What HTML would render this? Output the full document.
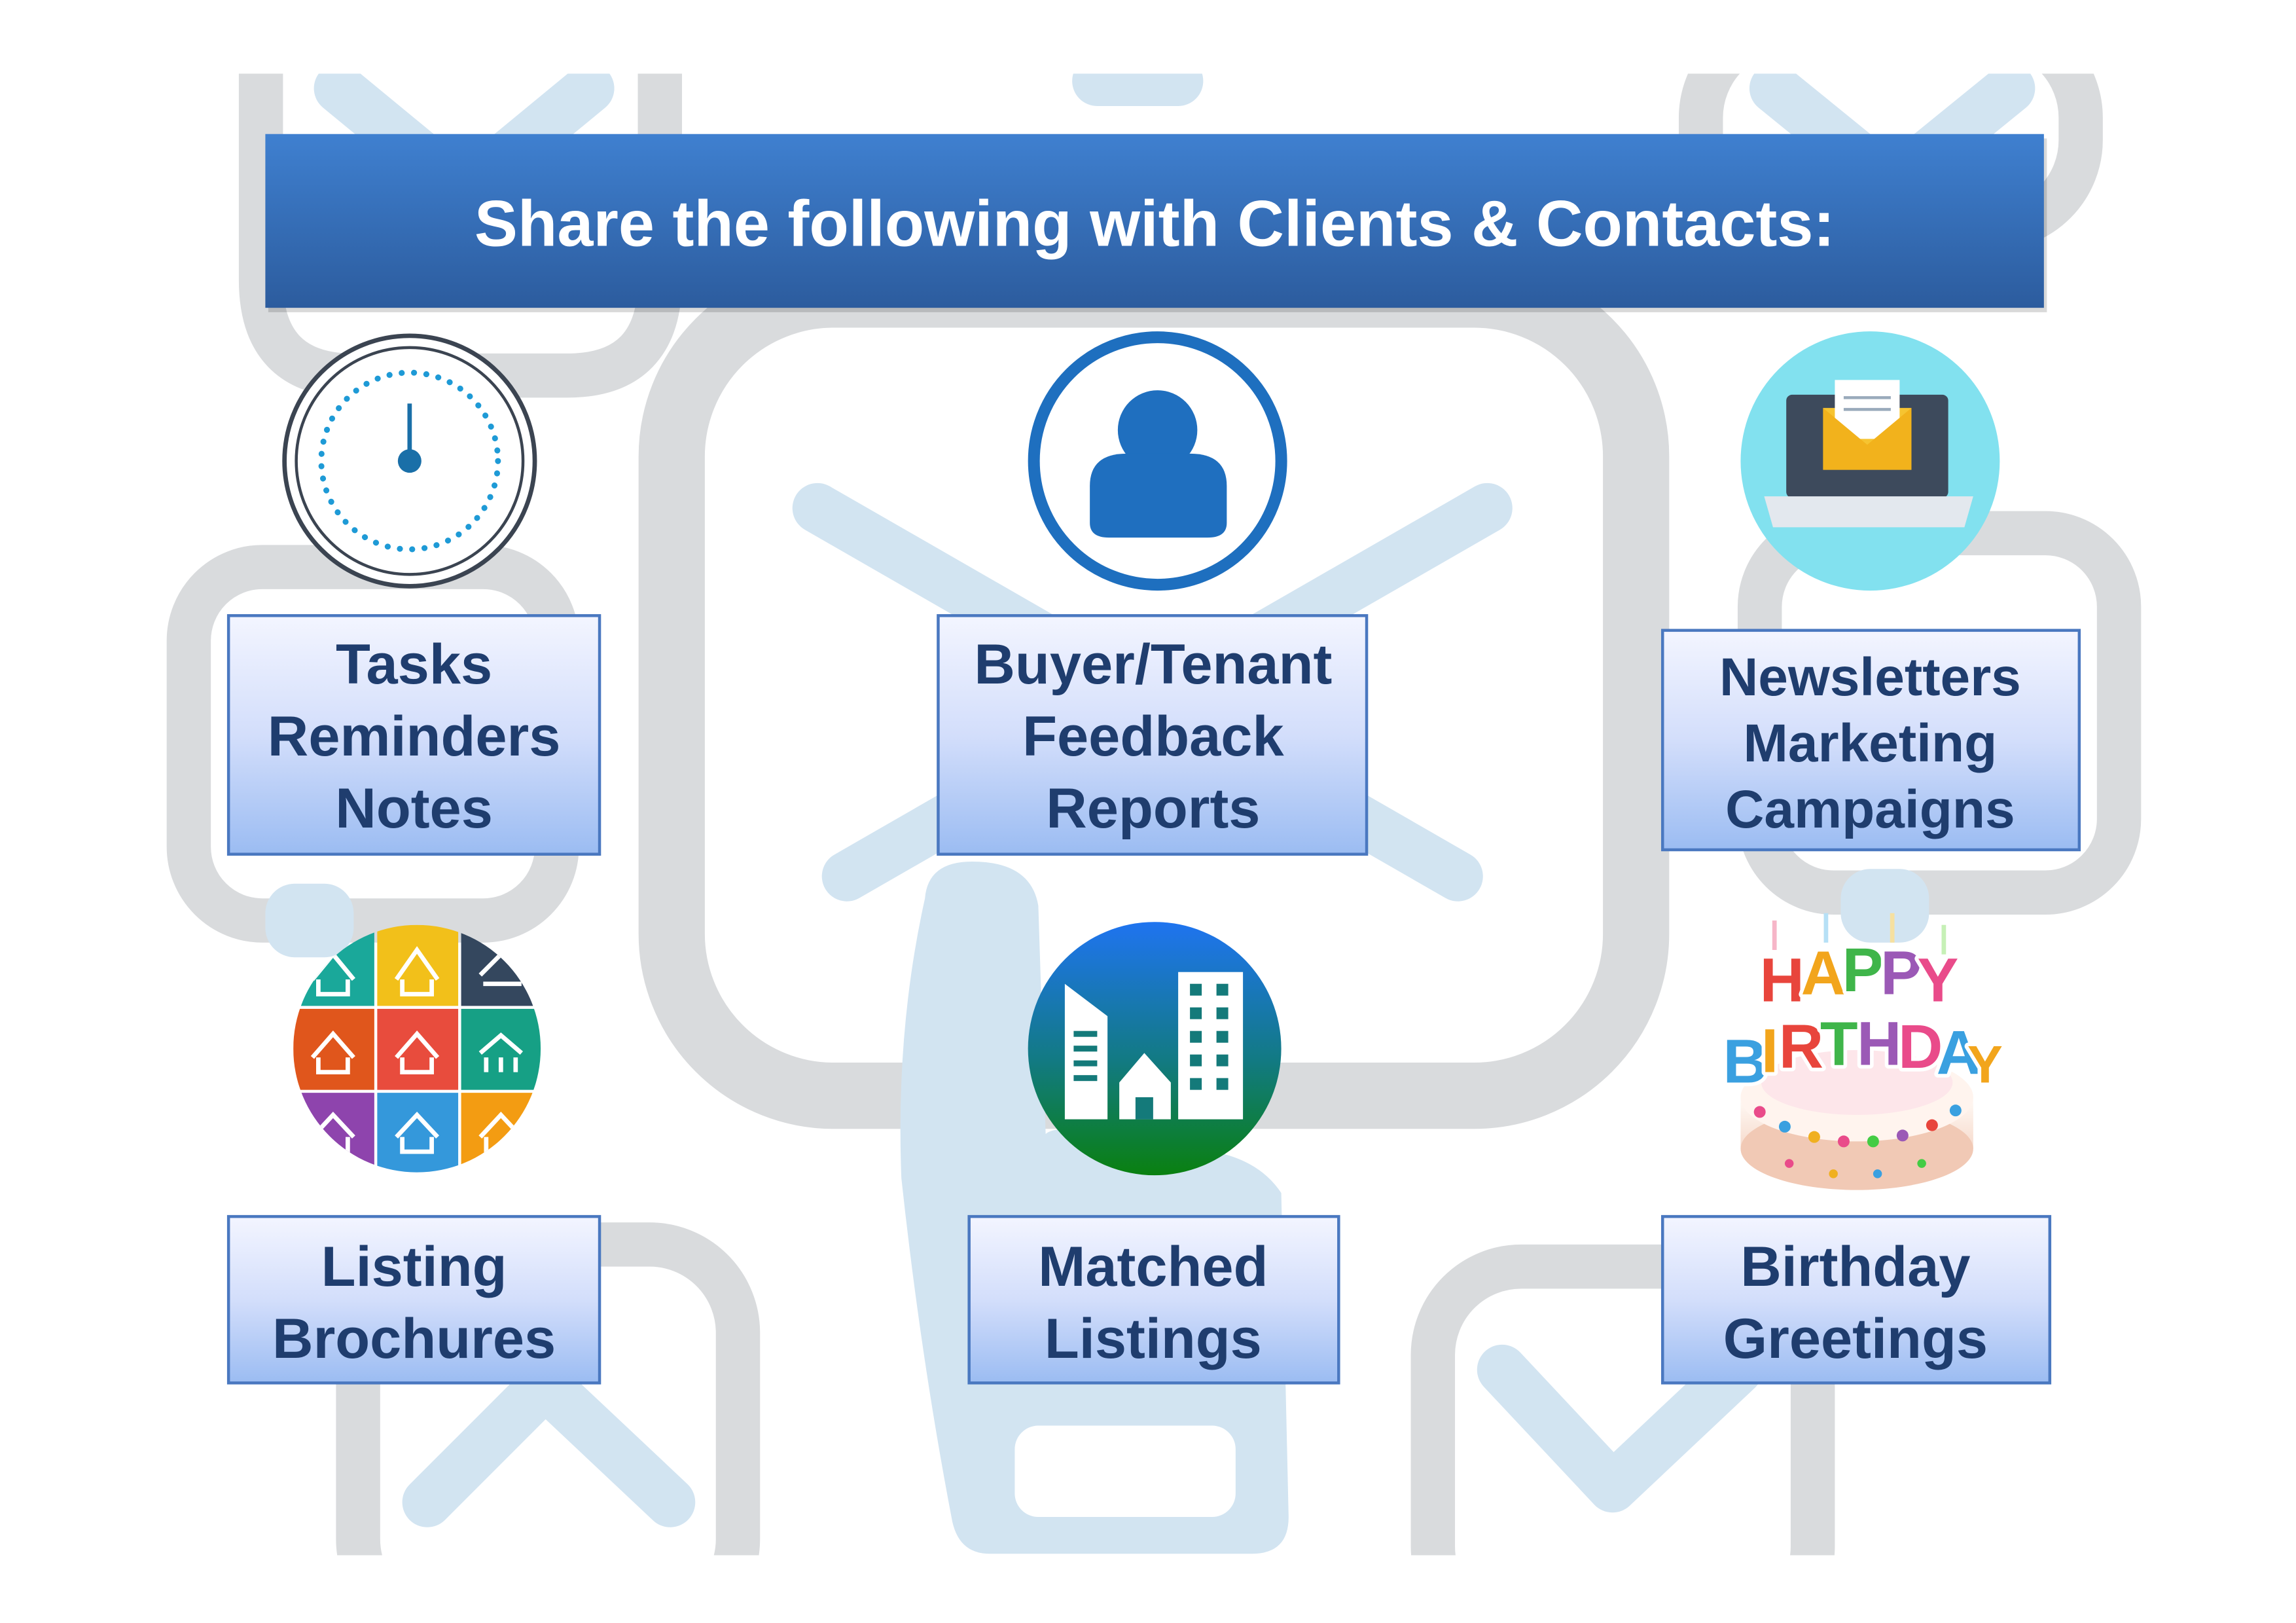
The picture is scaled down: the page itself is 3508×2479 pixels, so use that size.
<!DOCTYPE html>
<html><head><meta charset="utf-8"><style>
html,body{margin:0;padding:0;background:#fff;}
svg{display:block;}
text{font-family:"Liberation Sans",Arial,sans-serif;font-weight:bold;}
</style></head><body>
<svg width="3508" height="2479" viewBox="0 0 1559 1102" xmlns="http://www.w3.org/2000/svg">
<defs>
<linearGradient id="hdr" x1="0" y1="0" x2="0" y2="1"><stop offset="0" stop-color="#3f80d0"/><stop offset="1" stop-color="#2c5c9e"/></linearGradient>
<linearGradient id="box" x1="0" y1="0" x2="0" y2="1"><stop offset="0" stop-color="#f3f5ff"/><stop offset="0.5" stop-color="#d3defb"/><stop offset="1" stop-color="#9bbcf2"/></linearGradient>
<linearGradient id="bld" x1="0" y1="0" x2="0" y2="1"><stop offset="0" stop-color="#1f74f0"/><stop offset="0.55" stop-color="#127a82"/><stop offset="1" stop-color="#0a8010"/></linearGradient>
<linearGradient id="cake" x1="0" y1="0" x2="0" y2="1"><stop offset="0" stop-color="#fffaf6"/><stop offset="1" stop-color="#f0c4ae"/></linearGradient>
<clipPath id="hc"><circle cx="283" cy="712" r="84"/></clipPath>
<clipPath id="pg"><rect x="0" y="50" width="1559" height="1006"/></clipPath>
</defs>

<g clip-path="url(#pg)" fill="none" stroke-linecap="round" stroke-linejoin="round">
  <g stroke="#d9dbdd" stroke-width="30">
    <path d="M177,40 V190 Q177,255 240,255 H385 Q448,255 448,190 V40"/>
    <rect x="1155" y="20" width="258" height="135" rx="60"/>
    <rect x="128" y="385" width="250" height="240" rx="50"/>
    <rect x="1195" y="362" width="244" height="244" rx="50"/>
    <rect x="243" y="845" width="258" height="260" rx="60"/>
    <rect x="973" y="860" width="258" height="250" rx="60"/>
  </g>
  <rect x="456" y="200" width="655" height="544" rx="110" stroke="#d9dbdd" stroke-width="45"/>
  <g stroke="#d2e4f1" stroke-width="34">
    <polyline points="230,60 315,130 400,60"/>
    <polyline points="1205,60 1285,125 1365,60"/>
    <polyline points="290,1020 370,940 455,1020"/>
    <polyline points="1020,930 1095,1010 1180,930"/>
    <line x1="555" y1="345" x2="990" y2="595"/>
    <line x1="1010" y1="345" x2="575" y2="595"/>
    <line x1="745" y1="55" x2="800" y2="55"/>
  </g>
  <path d="M628,610 Q630,585 660,585 Q700,585 705,615 L710,770 Q720,760 800,780 Q850,780 870,810 L875,1030 Q875,1055 850,1055 L672,1055 Q650,1055 646,1030 Q625,920 612,800 Q608,700 628,610 Z" fill="#d2e4f1" stroke="none"/>
  <rect x="689" y="968" width="150" height="62" rx="16" fill="#fff" stroke="none"/>
  <rect x="180" y="600" width="60" height="50" rx="20" fill="#d2e4f1" stroke="none"/>
  <rect x="1250" y="590" width="60" height="50" rx="20" fill="#d2e4f1" stroke="none"/>
</g>

<rect x="182" y="94" width="1208" height="118" fill="#000" opacity="0.15"/>
<rect x="180" y="91" width="1208" height="118" fill="url(#hdr)"/>
<text x="784" y="167" font-size="44" fill="#fff" text-anchor="middle">Share the following with Clients &amp; Contacts:</text>

<g stroke="#4a78c0" stroke-width="2" fill="url(#box)">
  <rect x="155" y="418" width="252" height="162"/>
  <rect x="637" y="418" width="291" height="162"/>
  <rect x="1129" y="428" width="283" height="149"/>
  <rect x="155" y="826" width="252" height="113"/>
  <rect x="658" y="826" width="251" height="113"/>
  <rect x="1129" y="826" width="263" height="113"/>
</g>
<g font-size="38.5" fill="#1f3d6e" text-anchor="middle">
  <text x="281" y="464">Tasks</text><text x="281" y="513">Reminders</text><text x="281" y="562">Notes</text>
  <text x="783" y="464">Buyer/Tenant</text><text x="783" y="513">Feedback</text><text x="783" y="562">Reports</text>
  <text x="1270" y="472" font-size="36.5">Newsletters</text><text x="1270" y="517" font-size="36.5">Marketing</text><text x="1270" y="562" font-size="36.5">Campaigns</text>
  <text x="281" y="873">Listing</text><text x="281" y="922">Brochures</text>
  <text x="783" y="873">Matched</text><text x="783" y="922">Listings</text>
  <text x="1260" y="873">Birthday</text><text x="1260" y="922">Greetings</text>
</g>

<circle cx="278" cy="313" r="85" fill="#fff" stroke="#3b4451" stroke-width="3"/>
<circle cx="278" cy="313" r="77" fill="none" stroke="#3b4451" stroke-width="2"/>
<circle cx="278" cy="313" r="60" fill="none" stroke="#1e9ad6" stroke-width="4" stroke-dasharray="0.1 8.3" stroke-linecap="round"/>
<line x1="278" y1="313" x2="278" y2="274" stroke="#1a6fa8" stroke-width="3"/>
<circle cx="278" cy="313" r="8" fill="#1a6fa8"/>

<circle cx="786" cy="313" r="84" fill="#fff" stroke="#1e6fbf" stroke-width="8"/>
<circle cx="786" cy="292" r="27" fill="#1f6fbf"/>
<path d="M740,330 Q740,308 765,308 L808,308 Q833,308 833,330 L833,355 Q833,365 820,365 L753,365 Q740,365 740,355 Z" fill="#1f6fbf"/>

<circle cx="1270" cy="313" r="88" fill="#82e1ef"/>
<rect x="1213" y="268" width="110" height="70" rx="4" fill="#3d4a5c"/>
<path d="M1198,337 L1340,337 L1334,358 L1204,358 Z" fill="#e3e8ee"/>
<rect x="1238" y="277" width="60" height="42" fill="#f6c431"/>
<rect x="1246" y="258" width="44" height="40" fill="#fff"/>
<path d="M1238,277 L1268,302 L1298,277 L1298,319 L1238,319 Z" fill="#f2b21c"/>
<line x1="1252" y1="270" x2="1284" y2="270" stroke="#9ab" stroke-width="2"/>
<line x1="1252" y1="278" x2="1284" y2="278" stroke="#9ab" stroke-width="2"/>

<g clip-path="url(#hc)">
  <rect x="199" y="628" width="55" height="55" fill="#1aa89a"/>
  <rect x="256" y="628" width="55" height="55" fill="#f2c01a"/>
  <rect x="313" y="628" width="55" height="55" fill="#34475e"/>
  <rect x="199" y="685" width="55" height="55" fill="#e0561c"/>
  <rect x="256" y="685" width="55" height="55" fill="#e84c3d"/>
  <rect x="313" y="685" width="55" height="55" fill="#16a085"/>
  <rect x="199" y="742" width="55" height="55" fill="#8e44ad"/>
  <rect x="256" y="742" width="55" height="55" fill="#3498db"/>
  <rect x="313" y="742" width="55" height="55" fill="#f39c12"/>
  <g fill="none" stroke="#fff" stroke-width="3">
    <path d="M212,665 L226,648 L240,665 M216,665 V675 H236 V665"/>
    <path d="M269,665 L283,645 L297,665 M273,665 V675 H293 V665"/>
    <path d="M326,662 L340,648 L354,662 M328,668 H354"/>
    <path d="M212,718 L226,702 L240,718 M216,718 V728 H236 V718"/>
    <path d="M269,718 L283,702 L297,718 M273,718 V728 H293 V718"/>
    <path d="M326,715 L340,703 L354,715 M330,718 V728 M340,718 V728 M350,718 V728"/>
    <path d="M212,772 L226,757 L240,772 M216,772 V782 H236 V772"/>
    <path d="M269,772 L283,757 L297,772 M273,772 V782 H293 V772"/>
    <path d="M326,772 L340,757 L354,772 M330,772 V782 H350 V772"/>
  </g>
</g>

<circle cx="784" cy="712" r="86" fill="url(#bld)"/>
<g fill="#fff">
  <path d="M723,760 L723,668 L752,690 L752,760 Z"/>
  <rect x="800" y="660" width="44" height="100"/>
  <path d="M760,735 L777,715 L795,735 L795,760 L760,760 Z"/>
</g>
<g fill="#147a7a">
  <rect x="808" y="668" width="8" height="8"/><rect x="826" y="668" width="8" height="8"/>
  <rect x="808" y="684" width="8" height="8"/><rect x="826" y="684" width="8" height="8"/>
  <rect x="808" y="700" width="8" height="8"/><rect x="826" y="700" width="8" height="8"/>
  <rect x="808" y="716" width="8" height="8"/><rect x="826" y="716" width="8" height="8"/>
  <rect x="808" y="732" width="8" height="8"/><rect x="826" y="732" width="8" height="8"/>
  <rect x="729" y="700" width="16" height="4"/><rect x="729" y="710" width="16" height="4"/>
  <rect x="729" y="720" width="16" height="4"/><rect x="729" y="730" width="16" height="4"/>
  <rect x="771" y="745" width="12" height="15"/>
</g>

<path d="M1182,745 L1182,780 Q1260,830 1340,780 L1340,745 Z" fill="url(#cake)"/>
<ellipse cx="1261" cy="780" rx="79" ry="28" fill="#f1c9b5"/>
<ellipse cx="1261" cy="745" rx="79" ry="30" fill="#fff4ee"/>
<ellipse cx="1261" cy="735" rx="65" ry="22" fill="#fde6ea"/>
<g>
  <circle cx="1195" cy="755" r="4" fill="#e94b8a"/><circle cx="1212" cy="765" r="4" fill="#3aa0e0"/>
  <circle cx="1232" cy="772" r="4" fill="#f0b020"/><circle cx="1252" cy="775" r="4" fill="#e94b8a"/>
  <circle cx="1272" cy="775" r="4" fill="#4c4"/><circle cx="1292" cy="771" r="4" fill="#9b59b6"/>
  <circle cx="1312" cy="764" r="4" fill="#e8453c"/><circle cx="1328" cy="754" r="4" fill="#3aa0e0"/>
  <circle cx="1215" cy="790" r="3" fill="#e94b8a"/><circle cx="1245" cy="797" r="3" fill="#f0b020"/>
  <circle cx="1275" cy="797" r="3" fill="#3aa0e0"/><circle cx="1305" cy="790" r="3" fill="#4c4"/>
</g>
<g stroke="#fff" stroke-width="5" stroke-linejoin="round" paint-order="stroke" font-size="42">
  <text x="1195" y="680" fill="#e8453c">H</text>
  <text x="1223" y="675" fill="#f2a51c">A</text>
  <text x="1251" y="673" fill="#3fb54a">P</text>
  <text x="1277" y="675" fill="#9b59b6">P</text>
  <text x="1302" y="680" fill="#e94b8a">Y</text>
  <text x="1170" y="735" fill="#3aa0e0">B</text>
  <text x="1196" y="728" fill="#f2a51c">I</text>
  <text x="1208" y="725" fill="#e8453c">R</text>
  <text x="1236" y="723" fill="#3fb54a">T</text>
  <text x="1261" y="723" fill="#9b59b6">H</text>
  <text x="1289" y="725" fill="#e94b8a">D</text>
  <text x="1315" y="729" fill="#3aa0e0">A</text>
  <text x="1336" y="735" font-size="36" fill="#f2a51c">Y</text>
</g>
<g stroke-width="3">
  <line x1="1205" y1="625" x2="1205" y2="645" stroke="#f6b6c8"/>
  <line x1="1240" y1="620" x2="1240" y2="640" stroke="#b6e0f6"/>
  <line x1="1285" y1="620" x2="1285" y2="640" stroke="#f6e0a0"/>
  <line x1="1320" y1="628" x2="1320" y2="648" stroke="#c6f0b6"/>
</g>
</svg>
</body></html>
